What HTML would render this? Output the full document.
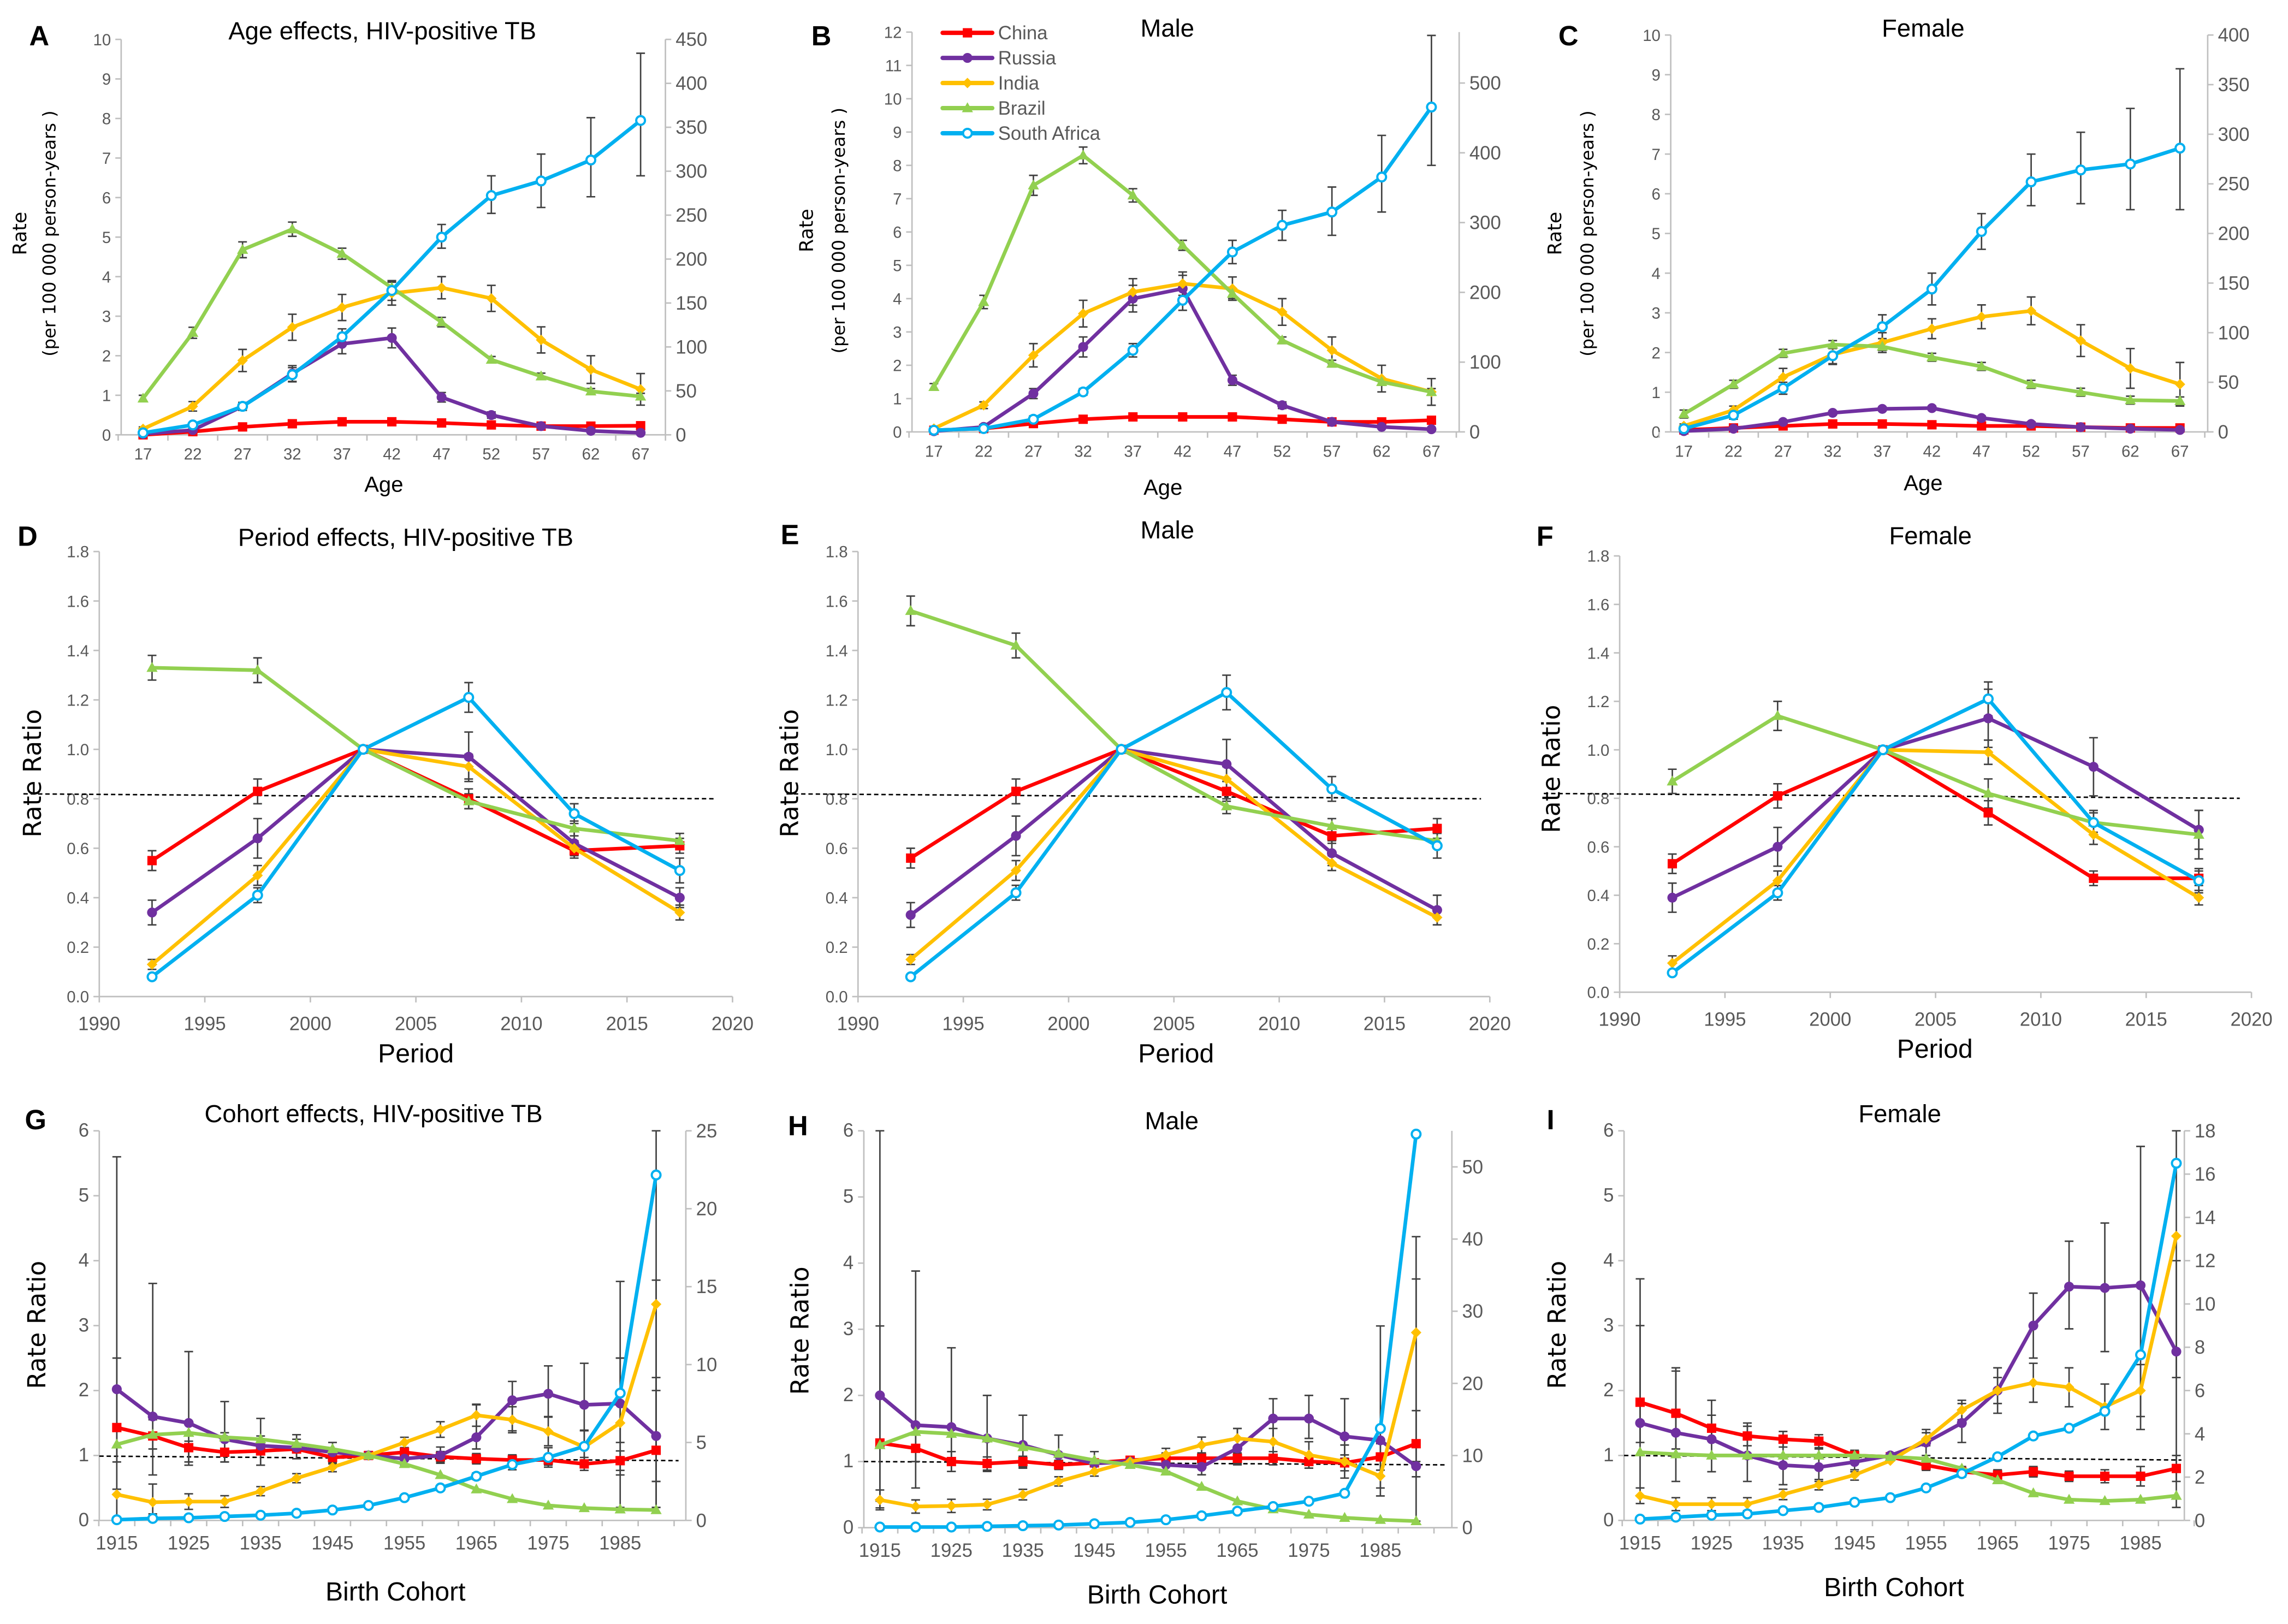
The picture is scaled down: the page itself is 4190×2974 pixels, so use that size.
<!DOCTYPE html>
<html><head><meta charset="utf-8"><style>
html,body{margin:0;padding:0;background:#fff}
svg{display:block}
text{font-family:"Liberation Sans Narrow","Liberation Sans",sans-serif}
.tk{fill:#595959;font-size:11px}
.yl{font-family:"DejaVu Sans","Liberation Sans",sans-serif;fill:#000}
</style></head><body>
<svg id="s" width="4190" height="2974" viewBox="0 0 1568 1113" xmlns="http://www.w3.org/2000/svg"></svg>
<script>
(function(){
const S=document.getElementById('s');let h='';
const COL={china:'#ff0000',russia:'#7030a0',india:'#ffc000',brazil:'#92d050',sa:'#00b0f0'};
const ORDER=['china','russia','india','brazil','sa'];
function mk(t,x,y){const c=COL[t];
 if(t=='china')return `<rect x="${x-3.2}" y="${y-3.2}" width="6.4" height="6.4" fill="${c}"/>`;
 if(t=='russia')return `<circle cx="${x}" cy="${y}" r="3.4" fill="${c}"/>`;
 if(t=='india')return `<path d="M${x} ${y-3.6}L${x+3.6} ${y}L${x} ${y+3.6}L${x-3.6} ${y}Z" fill="${c}"/>`;
 if(t=='brazil')return `<path d="M${x} ${y-4}L${x+3.8} ${y+2.8}L${x-3.8} ${y+2.8}Z" fill="${c}"/>`;
 return `<circle cx="${x}" cy="${y}" r="3" fill="#fff" stroke="${c}" stroke-width="1.5"/>`;}
function txt(x,y,s,opt){h+=`<text x="${x}" y="${y}" ${opt||''}>${s}</text>`;}
function panel(p){
 const Y=v=>p.y0-v*(p.y0-p.yTop)/p.yMax;
 h+=`<line x1="${p.xl}" y1="${p.yTop}" x2="${p.xl}" y2="${p.y0}" stroke="#bfbfbf" stroke-width="1"/>`;
 h+=`<line x1="${p.xl}" y1="${p.y0}" x2="${p.xr||p.xe}" y2="${p.y0}" stroke="#bfbfbf" stroke-width="1"/>`;
 for(let v=0;v<=p.yMax+1e-9;v+=p.step){const y=Y(v);h+=`<line x1="${p.xl-4}" y1="${y}" x2="${p.xl}" y2="${y}" stroke="#bfbfbf"/>`;
  txt(p.xl-7,y+4,p.fmt?p.fmt(v):Math.round(v*10)/10,'class="tk" text-anchor="end" style="font-size:'+(p.yFs||11)+'px"');}
 if(p.xr){h+=`<line x1="${p.xr}" y1="${p.yTop}" x2="${p.xr}" y2="${p.y0}" stroke="#bfbfbf"/>`;
  for(let v=0;v<=p.rMax+1e-9;v+=p.rStep){const y=p.y0-v*(p.y0-p.yTop)/p.rTopVal;if(y<p.yTop-1)break;
   h+=`<line x1="${p.xr}" y1="${y}" x2="${p.xr+4}" y2="${y}" stroke="#bfbfbf"/>`;txt(p.xr+7,y+4.5,v,'class="tk" style="font-size:13px"');}}
 p.xlabels.forEach(function(a){txt(a[0],p.xlabY,a[1],'class="tk" text-anchor="middle" style="font-size:'+(p.xlabFs||11)+'px"');});
 (p.xticks||[]).forEach(function(x){h+=`<line x1="${x}" y1="${p.y0}" x2="${x}" y2="${p.y0+4}" stroke="#bfbfbf"/>`;});
 if(p.dash)h+=`<line x1="${p.dash[0]}" y1="${Y(p.dash[1])}" x2="${p.dash[2]}" y2="${Y(p.dash[3])}" stroke="#000" stroke-width="1" stroke-dasharray="3,2"/>`;
 ORDER.forEach(function(k){const d=p.d[k],e=p.e[k];if(!e)return;d.forEach(function(v,i){let lo,hi;const ei=Array.isArray(e)?e[i]:e;
  if(ei==null)return;if(Array.isArray(ei)){lo=ei[0];hi=ei[1];}else{lo=v-ei;hi=v+ei;}
  lo=Math.max(lo,0);hi=Math.min(hi,p.yMax);const x=p.X(i);
  h+=`<path d="M${x} ${Y(lo)}V${Y(hi)}M${x-3} ${Y(lo)}h6M${x-3} ${Y(hi)}h6" stroke="#404040" stroke-width="1" fill="none"/>`;});});
 ORDER.forEach(function(k){const d=p.d[k];h+=`<polyline points="${d.map((v,i)=>p.X(i)+','+Y(v)).join(' ')}" fill="none" stroke="${COL[k]}" stroke-width="2.5" stroke-linejoin="round"/>`;
  d.forEach(function(v,i){h+=mk(k,p.X(i),Y(v));});});
}
const topX=(x17,x67)=>i=>x17+i*(x67-x17)/10;
const ages=[17,22,27,32,37,42,47,52,57,62,67];
function topPanel(o){const X=topX(o.x17,o.x67);const dx=(o.x67-o.x17)/10;
 panel(Object.assign({X:X,xlabels:ages.map((a,i)=>[X(i),a]),xticks:ages.map((a,i)=>X(i)-dx/2).concat([X(10)+dx/2]),xlabY:o.y0+17},o));}
topPanel({xl:83,xr:456,x17:98,x67:439,y0:298,yTop:27,yMax:10,step:1,rMax:450,rStep:50,rTopVal:450,
 d:{china:[0,0.08,0.2,0.28,0.33,0.33,0.3,0.25,0.22,0.22,0.23],
 russia:[0.02,0.12,0.72,1.55,2.3,2.45,0.95,0.5,0.22,0.1,0.05],
 india:[0.15,0.72,1.88,2.72,3.22,3.58,3.72,3.45,2.4,1.65,1.15],
 brazil:[0.92,2.58,4.68,5.2,4.58,3.72,2.85,1.9,1.48,1.1,0.97],
 sa:[0.05,0.25,0.72,1.52,2.48,3.65,5.0,6.05,6.42,6.95,7.95]},
 e:{china:0.03,russia:[0.02,0.05,0.1,0.2,0.25,0.25,0.12,0.08,0.03,0.02,0.02],india:[0.05,0.12,0.28,0.33,0.33,0.3,0.28,0.33,0.33,0.35,0.4],brazil:[0.08,0.14,0.2,0.18,0.14,0.14,0.12,0.08,0.08,0.07,0.08],
 sa:[0.03,0.05,0.1,0.18,0.2,0.25,[4.72,5.32],[5.6,6.55],[5.75,7.1],[6.02,8.02],[6.55,9.65]]}});
topPanel({xl:625,xr:1000,x17:640,x67:981,y0:296,yTop:22,yMax:12,step:1,rMax:500,rStep:100,rTopVal:573,
 d:{china:[0.05,0.1,0.25,0.38,0.45,0.45,0.45,0.38,0.3,0.3,0.35],
 russia:[0.02,0.15,1.15,2.55,4.0,4.3,1.55,0.8,0.3,0.15,0.08],
 india:[0.1,0.8,2.3,3.55,4.2,4.45,4.3,3.6,2.45,1.6,1.2],
 brazil:[1.35,3.9,7.4,8.3,7.1,5.6,4.15,2.75,2.05,1.5,1.2],
 sa:[0.05,0.1,0.38,1.2,2.45,3.95,5.4,6.2,6.6,7.65,9.75]},
 e:{china:0.04,russia:[0.02,0.05,0.15,0.3,0.4,0.4,0.15,0.1,0.05,0.03,0.02],india:[0.05,0.1,0.35,0.4,0.4,0.35,0.35,0.4,0.4,0.4,0.4],brazil:[0.1,0.2,0.3,0.25,0.2,0.15,0.15,0.1,0.1,0.1,0.1],
 sa:[0.03,0.05,0.1,0.1,0.2,0.3,0.35,[5.75,6.65],[5.9,7.35],[6.6,8.9],[8.0,11.9]]}});
topPanel({xl:1145,xr:1513,x17:1154,x67:1494,y0:296,yTop:24,yMax:10,step:1,rMax:400,rStep:50,rTopVal:400,
 d:{china:[0.05,0.1,0.15,0.2,0.2,0.18,0.15,0.15,0.12,0.1,0.1],
 russia:[0.02,0.08,0.25,0.48,0.58,0.6,0.35,0.2,0.12,0.08,0.05],
 india:[0.15,0.55,1.38,1.95,2.25,2.6,2.9,3.05,2.3,1.6,1.2],
 brazil:[0.45,1.2,1.98,2.2,2.15,1.88,1.65,1.2,1.0,0.8,0.78],
 sa:[0.08,0.42,1.1,1.92,2.65,3.6,5.05,6.3,6.6,6.75,7.15]},
 e:{china:0.03,russia:0.05,india:[0.05,0.1,0.22,0.25,0.25,0.25,0.3,0.35,0.4,0.5,0.55],brazil:0.1,
 sa:[0.05,0.1,0.15,0.2,0.3,0.4,0.45,[5.7,7.0],[5.75,7.55],[5.6,8.15],[5.6,9.15]]}});
function midPanel(o){const X=i=>o.x90+(2.5+5*i)*(o.x20-o.x90)/30;
 const labs=[];for(let y=1990;y<=2020;y+=5)labs.push([o.x90+(y-1990)*(o.x20-o.x90)/30,y]);
 panel(Object.assign({X:X,xl:o.x90,xe:o.x20,xlabels:labs,xticks:labs.map(a=>a[0]),xlabY:o.y0+23,xlabFs:13,yMax:1.8,step:0.2,fmt:v=>v.toFixed(1)},o));}
midPanel({x90:68,x20:502,y0:683,yTop:378,dash:[16,0.82,490,0.8],
 d:{china:[0.55,0.83,1.0,0.8,0.59,0.61],russia:[0.34,0.64,1.0,0.97,0.62,0.40],india:[0.13,0.49,1.0,0.93,0.60,0.34],brazil:[1.33,1.32,1.0,0.79,0.68,0.63],sa:[0.08,0.41,1.0,1.21,0.74,0.51]},
 e:{china:[0.04,0.05,0,0.04,0.03,0.03],russia:[0.05,0.08,0,0.1,0.05,0.04],india:[0.02,0.04,0,0.05,0.03,0.03],brazil:[0.05,0.05,0,0.03,0.03,0.03],sa:[0.01,0.03,0,0.06,0.04,0.05]}});
midPanel({x90:588,x20:1021,y0:683,yTop:378,dash:[539,0.82,1015,0.8],
 d:{china:[0.56,0.83,1.0,0.83,0.65,0.68],russia:[0.33,0.65,1.0,0.94,0.58,0.35],india:[0.15,0.51,1.0,0.88,0.54,0.32],brazil:[1.56,1.42,1.0,0.77,0.69,0.63],sa:[0.08,0.42,1.0,1.23,0.84,0.61]},
 e:{china:[0.04,0.05,0,0.04,0.03,0.04],russia:[0.05,0.08,0,0.1,0.05,0.06],india:[0.02,0.04,0,0.05,0.03,0.03],brazil:[0.06,0.05,0,0.03,0.03,0.03],sa:[0.01,0.03,0,0.07,0.05,0.05]}});
midPanel({x90:1110,x20:1543,y0:680,yTop:381,dash:[1058,0.82,1535,0.8],
 d:{china:[0.53,0.81,1.0,0.74,0.47,0.47],russia:[0.39,0.60,1.0,1.13,0.93,0.67],india:[0.12,0.46,1.0,0.99,0.65,0.39],brazil:[0.87,1.14,1.0,0.82,0.70,0.65],sa:[0.08,0.41,1.0,1.21,0.70,0.46]},
 e:{china:[0.04,0.05,0,0.05,0.03,0.03],russia:[0.06,0.08,0,0.12,0.12,0.08],india:[0.03,0.04,0,0.05,0.04,0.03],brazil:[0.05,0.06,0,0.06,0.04,0.1],sa:[0.01,0.03,0,0.07,0.05,0.05]}});
function botPanel(o){const st=(o.x85-o.x15)/14;const X=i=>o.x15+i*st;
 const labs=[];for(let i=0;i<=14;i+=2)labs.push([X(i),1915+5*i]);
 const tks=[];for(let i=0;i<=16;i++)tks.push(X(i)-st/2);
 panel(Object.assign({X:X,xlabels:labs,xticks:tks,xlabY:o.y0+20,xlabFs:13,yMax:6,step:1,yFs:13},o));}
botPanel({xl:68,xr:470,x15:80,x85:425,y0:1042,yTop:775,rMax:25,rStep:5,rTopVal:25,dash:[68,0.99,465,0.92],
 d:{china:[1.43,1.3,1.12,1.05,1.07,1.1,0.97,1.0,1.05,0.98,0.95,0.93,0.93,0.87,0.92,1.08],
 russia:[2.02,1.6,1.5,1.25,1.15,1.12,1.05,1.0,0.95,1.0,1.28,1.85,1.95,1.78,1.8,1.3],
 india:[0.4,0.28,0.29,0.29,0.45,0.65,0.82,1.0,1.2,1.4,1.62,1.55,1.37,1.13,1.5,3.33],
 brazil:[1.17,1.32,1.35,1.28,1.25,1.18,1.1,1.0,0.87,0.7,0.48,0.33,0.23,0.19,0.17,0.16],
 sa:[0.01,0.03,0.04,0.06,0.08,0.11,0.16,0.23,0.35,0.5,0.68,0.86,0.97,1.14,1.96,5.32]},
 e:{russia:[[0.48,5.6],[0.7,3.65],[0.9,2.6],[0.9,1.83],[0.85,1.57],[0.95,1.32],[0.93,1.2],null,[0.85,1.1],[0.88,1.13],[1.1,1.78],[1.38,2.14],[1.6,2.38],[1.38,2.42],[1.2,2.5],[0.2,3.7]],
 china:[[0.9,2.5],[1.1,1.55],[0.85,1.22],[0.9,1.35],[0.85,1.3],[0.95,1.25],0.1,null,0.07,0.08,0.08,0.08,0.08,0.1,0.15,[0.6,2.0]],
 india:[[0.05,0.48],[0.1,0.56],0.12,0.09,0.07,0.07,0.07,null,0.08,0.12,0.17,0.2,0.22,0.25,[0.7,2.5],[0.6,2.2]],
 sa:[null,null,null,null,null,null,null,null,null,null,0.05,0.08,0.15,0.25,[0.2,3.68],[0.2,6]]}});
botPanel({xl:592,xr:995,x15:603,x85:946,y0:1047,yTop:775,rMax:50,rStep:10,rTopVal:55,dash:[592,1.0,990,0.95],
 d:{china:[1.28,1.2,1.0,0.97,1.0,0.95,0.98,1.02,1.05,1.05,1.05,1.05,1.0,0.98,1.07,1.27],
 russia:[2.0,1.55,1.52,1.35,1.25,1.1,0.97,1.0,0.95,0.92,1.2,1.65,1.65,1.38,1.32,0.93],
 india:[0.42,0.32,0.33,0.35,0.5,0.7,0.85,1.0,1.1,1.25,1.35,1.3,1.1,1.0,0.78,2.95],
 brazil:[1.25,1.45,1.42,1.35,1.22,1.12,1.02,0.95,0.85,0.62,0.4,0.28,0.2,0.15,0.12,0.1],
 sa:[0.01,0.01,0.01,0.02,0.03,0.04,0.06,0.08,0.12,0.18,0.25,0.32,0.4,0.52,1.5,5.95]},
 e:{russia:[[0.3,6],[0.6,3.88],[0.85,2.72],[0.85,2.0],[0.9,1.7],[0.9,1.4],[0.85,1.15],null,[0.85,1.1],[0.8,1.1],[0.95,1.5],[1.3,1.95],[1.35,2.0],[1.05,1.95],[0.6,3.05],[0.1,3.76]],
 china:[[0.4,3.05],0.2,0.15,0.1,0.08,0.07,0.06,null,0.08,0.08,0.08,0.1,0.1,0.12,0.2,0.5],
 india:[0.15,0.1,0.1,0.08,0.08,0.07,0.07,null,0.1,0.12,0.15,0.2,0.2,0.25,0.3,[1.0,4.4]]}});
botPanel({xl:1113,xr:1497,x15:1124,x85:1467,y0:1042,yTop:775,rMax:18,rStep:2,rTopVal:18,dash:[1113,1.0,1495,0.93],
 d:{china:[1.82,1.65,1.42,1.3,1.25,1.22,1.0,0.98,0.85,0.75,0.7,0.75,0.68,0.68,0.68,0.8],
 russia:[1.5,1.35,1.25,1.0,0.85,0.82,0.9,1.0,1.2,1.5,2.0,3.0,3.6,3.58,3.62,2.6],
 india:[0.38,0.25,0.25,0.25,0.4,0.55,0.7,0.92,1.25,1.7,2.0,2.12,2.05,1.75,2.0,4.38],
 brazil:[1.05,1.02,1.0,1.0,1.0,1.0,1.0,0.98,0.95,0.8,0.62,0.42,0.32,0.3,0.32,0.38],
 sa:[0.02,0.05,0.08,0.1,0.15,0.2,0.28,0.35,0.5,0.72,0.98,1.3,1.42,1.68,2.55,5.5]},
 e:{russia:[[0.5,3.72],[0.6,2.35],[0.75,1.85],[0.6,1.5],[0.55,1.3],[0.6,1.1],0.15,null,0.2,0.3,0.35,[2.5,3.5],[2.95,4.3],[2.6,4.58],[1.4,5.76],[0.2,4.0]],
 china:[[1.2,3.0],[1.1,2.3],0.2,0.15,0.12,0.1,0.08,null,0.08,0.08,0.08,0.08,0.08,0.1,0.15,0.2],
 india:[0.12,0.1,0.1,0.1,0.08,0.08,0.08,null,0.1,0.15,0.2,0.3,0.3,0.35,0.4,[2.2,6]]}});
function T(x,y,s,fs,extra){txt(x,y,s,`font-size="${fs}" ${extra||''}`);}
T(20,31,'A',19,'font-weight="bold"');T(556,31,'B',19,'font-weight="bold"');T(1068,31,'C',19,'font-weight="bold"');
T(12,374,'D',19,'font-weight="bold"');T(535,373,'E',19,'font-weight="bold"');T(1053,374,'F',19,'font-weight="bold"');
T(17,774,'G',19,'font-weight="bold"');T(540,778,'H',19,'font-weight="bold"');T(1060,774,'I',19,'font-weight="bold"');
T(262,27,'Age effects, HIV-positive TB',17,'text-anchor="middle"');T(800,25,'Male',17,'text-anchor="middle"');T(1318,25,'Female',17,'text-anchor="middle"');
T(278,374,'Period effects, HIV-positive TB',17,'text-anchor="middle"');T(800,369,'Male',17,'text-anchor="middle"');T(1323,373,'Female',17,'text-anchor="middle"');
T(256,769,'Cohort effects, HIV-positive TB',17,'text-anchor="middle"');T(803,774,'Male',17,'text-anchor="middle"');T(1302,769,'Female',17,'text-anchor="middle"');
T(263,337,'Age',15,'text-anchor="middle"');T(797,339,'Age',15,'text-anchor="middle"');T(1318,336,'Age',15,'text-anchor="middle"');
T(285,728,'Period',18,'text-anchor="middle"');T(806,728,'Period',18,'text-anchor="middle"');T(1326,725,'Period',18,'text-anchor="middle"');
T(271,1097,'Birth Cohort',18,'text-anchor="middle"');T(793,1099,'Birth Cohort',18,'text-anchor="middle"');T(1298,1094,'Birth Cohort',18,'text-anchor="middle"');
function rot(x,y,s,fs){h+=`<text class="yl" x="${x}" y="${y}" font-size="${fs}" text-anchor="middle" transform="rotate(-90 ${x} ${y})">${s}</text>`;}
[[18,38,160],[557,579,158],[1070,1092,160]].forEach(function(a){rot(a[0],a[2],'Rate',13);rot(a[1],a[2],'(per 100 000 person-years )',12);});
rot(28,530,'Rate Ratio',17);rot(547,530,'Rate Ratio',17);rot(1069,527,'Rate Ratio',17);
rot(31,908,'Rate Ratio',17);rot(554,912,'Rate Ratio',17);rot(1073,908,'Rate Ratio',17);
[['china','China'],['russia','Russia'],['india','India'],['brazil','Brazil'],['sa','South Africa']].forEach(function(a,i){const k=a[0],n=a[1];const y=22.5+i*17.2;
 h+=`<line x1="646" y1="${y}" x2="680" y2="${y}" stroke="${COL[k]}" stroke-width="3" stroke-linecap="round"/>`+mk(k,663,y);
 txt(684,y+4.5,n,'font-size="13" fill="#595959"');});
S.innerHTML=h;
})();
</script>
</body></html>
